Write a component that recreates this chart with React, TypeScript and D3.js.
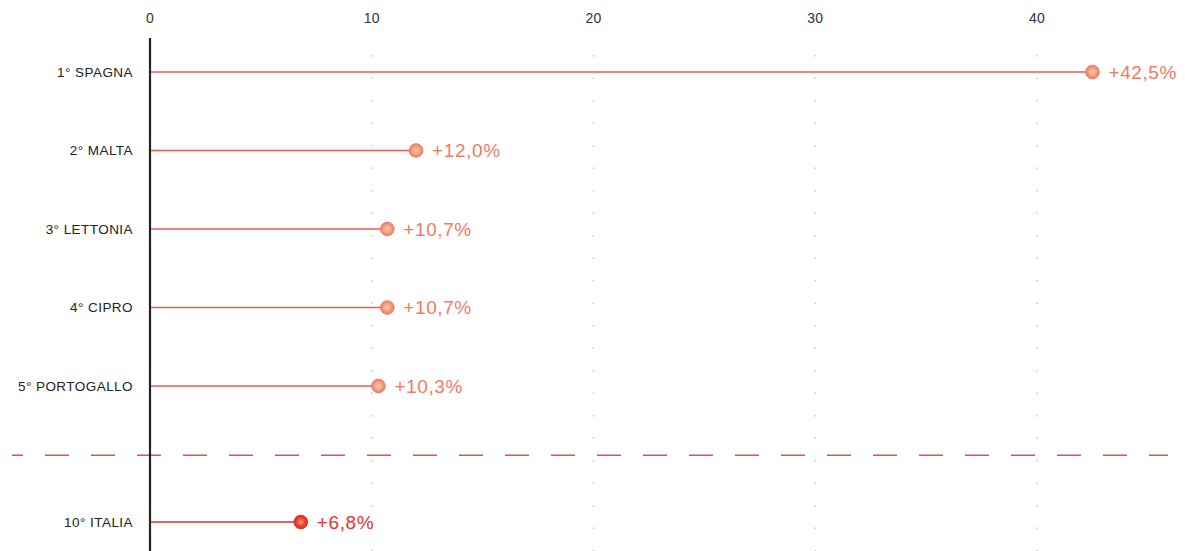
import React from "react";
import * as d3 from "d3";

const countries = ["1° SPAGNA", "2° MALTA", "3° LETTONIA", "4° CIPRO", "5° PORTOGALLO", "10° ITALIA"];
const ranks = [1, 2, 3, 4, 5, 10];
const values = [42.5, 12.0, 10.7, 10.7, 10.3, 6.8];
const labels = ["+42,5%", "+12,0%", "+10,7%", "+10,7%", "+10,3%", "+6,8%"];
const ticks = [0, 10, 20, 30, 40];
const highlight = "10° ITALIA";

export default function App() {
  const W = 1185, H = 551;
  const x = d3.scaleLinear().domain([0, 40]).range([150, 1037]);
  const y = d3.scaleLinear().domain([1, 5, 10]).range([72, 386, 522]);
  const font = "'Liberation Sans', Arial, Helvetica, sans-serif";
  return (
    <svg width={W} height={H} style={{ position: "absolute", left: 0, top: 0, background: "#fff" }} fontFamily={font}>
      <defs>
        <radialGradient id="dotG" cx="50%" cy="50%" r="50%">
          <stop offset="0%" stopColor="#fbd3a8" />
          <stop offset="55%" stopColor="#f6a282" />
          <stop offset="100%" stopColor="#ee7a66" />
        </radialGradient>
        <radialGradient id="dotR" cx="50%" cy="50%" r="50%">
          <stop offset="0%" stopColor="#f7a08a" />
          <stop offset="55%" stopColor="#ec4a35" />
          <stop offset="100%" stopColor="#e02a1c" />
        </radialGradient>
      </defs>
      {ticks.map((t) => (
        <g key={t}>
          <text x={x(t)} y={23} textAnchor="middle" fontSize={14} fill="#333" letterSpacing={0.3}>{t}</text>
          {t !== 0 && (
            <line x1={x(t)} x2={x(t)} y1={55} y2={H} stroke="#c8c8c8" strokeWidth={1.5} strokeDasharray="1.5 21" />
          )}
        </g>
      ))}
      <line x1={12} x2={1168} y1={y(7.55)} y2={y(7.55)} stroke="#e24f52" strokeWidth={1.5} strokeDasharray="24 22" strokeDashoffset={13} />
      <line x1={x(0)} x2={x(0)} y1={38} y2={H} stroke="#222" strokeWidth={2.2} />
      {countries.map((c, i) => {
        const hi = c === highlight;
        const cy = y(ranks[i]);
        const cx = x(values[i]);
        return (
          <g key={c}>
            <text x={133} y={cy + 4.5} textAnchor="end" fontSize={13.5} fill="#222" letterSpacing={0.45}>{c}</text>
            <line x1={x(0) + 1} x2={cx} y1={cy} y2={cy} stroke={hi ? "#e0301f" : "#ee5a4c"} strokeWidth={1.6} />
            <circle cx={cx} cy={cy} r={6.8} fill={hi ? "url(#dotR)" : "url(#dotG)"} stroke={hi ? "#e02a1c" : "#f07a66"} strokeWidth={1} />
            <text x={cx + 16} y={cy + 6.5} fontSize={19} fill={hi ? "#e8352a" : "#f07a66"} letterSpacing={0.6}>{labels[i]}</text>
          </g>
        );
      })}
    </svg>
  );
}
